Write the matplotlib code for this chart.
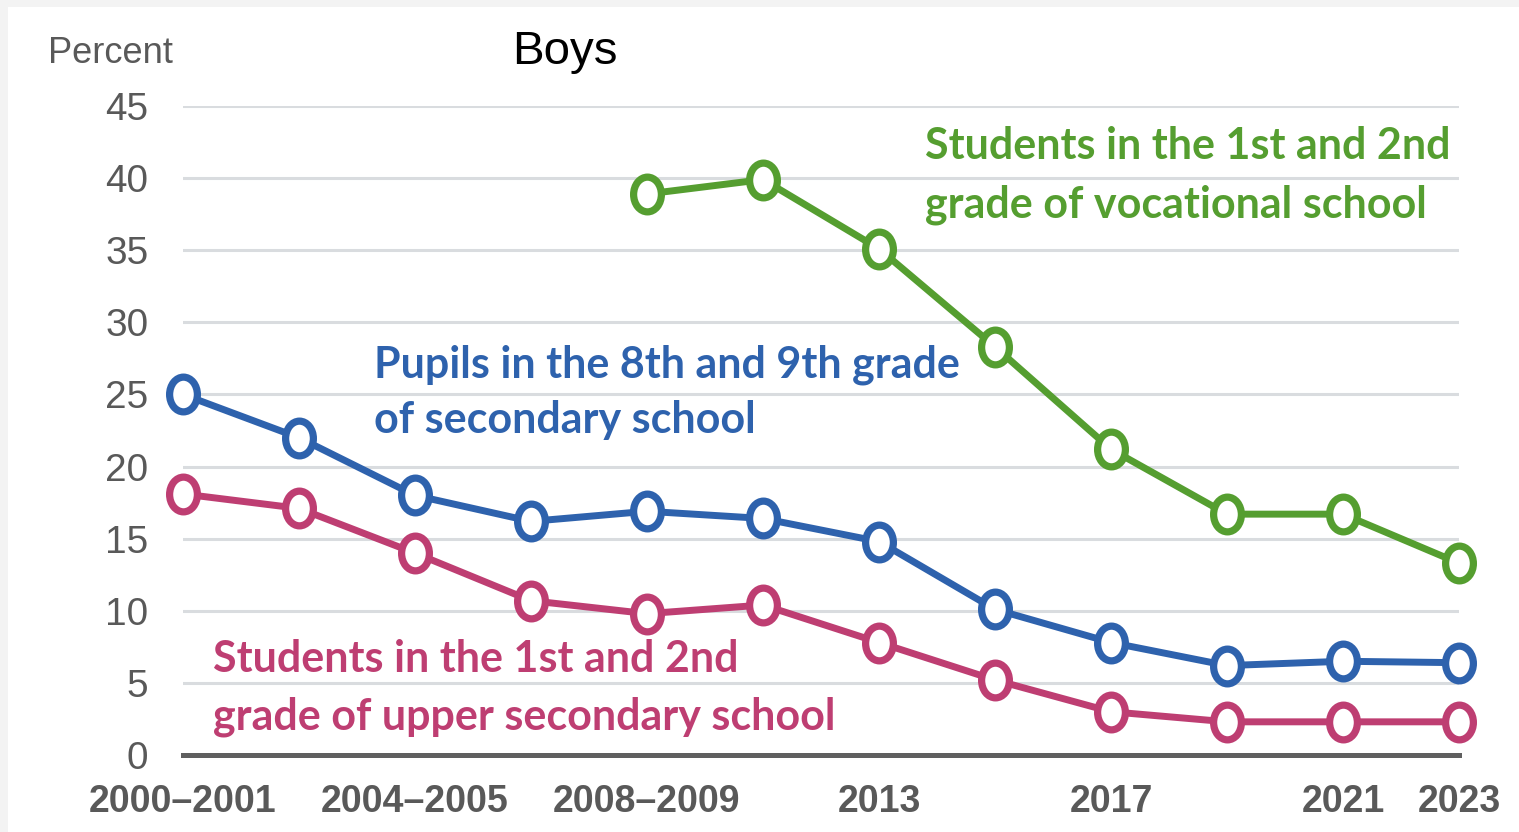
import matplotlib
matplotlib.use("Agg")
import matplotlib.pyplot as plt
from matplotlib import font_manager
from matplotlib.path import Path
from matplotlib.transforms import Affine2D
from matplotlib.patches import Rectangle

# x positions are survey rounds, only some of them get a label
n_points = 12
tick_pos = [0, 2, 4, 6, 8, 10, 11]
tick_labels = ["2000\u20132001", "2004\u20132005", "2008\u20132009", "2013", "2017", "2021", "2023"]

secondary = [25.0, 22.0, 18.0, 16.2, 16.9, 16.4, 14.8, 10.1, 7.8, 6.2, 6.5, 6.4]
upper_secondary = [18.1, 17.1, 14.0, 10.7, 9.8, 10.4, 7.8, 5.2, 3.0, 2.3, 2.3, 2.3]
vocational = [None, None, None, None, 38.9, 39.9, 35.1, 28.3, 21.2, 16.7, 16.7, 13.3]

label_secondary = ["Pupils in the 8th and 9th grade", "of secondary school"]
label_upper = ["Students in the 1st and 2nd", "grade of upper secondary school"]
label_vocational = ["Students in the 1st and 2nd", "grade of vocational school"]

BLUE = "#2e62ad"
PINK = "#be3e72"
GREEN = "#559e30"
GREY_TXT = "#595959"

names = {f.name for f in font_manager.fontManager.ttflist}
narrow = "Liberation Sans Narrow" in names
arial = "Liberation Sans Narrow" if narrow else "Liberation Sans"
scale = 1.0 if narrow else 0.9
label_font = "Lato"

W, H = 1519, 832
fig = plt.figure(figsize=(W / 100, H / 100), dpi=100)
fig.patch.set_facecolor("#f3f3f3")
fig.patches.append(Rectangle((8 / W, 0), 1, 1 - 7 / H, transform=fig.transFigure,
                             facecolor="white", edgecolor="none", zorder=-5))

ax = fig.add_axes([183 / W, 77 / H, (1459 - 183) / W, (755 - 106) / H])
ax.set_zorder(1)
ax.set_facecolor("none")
ax.set_xlim(0, n_points - 1)
ax.set_ylim(0, 45)
ax.set_yticks(range(0, 46, 5))
ax.grid(axis="y", color="#d9dcdf", linewidth=2.2)
ax.set_axisbelow(True)
for s in ["top", "right", "left"]:
    ax.spines[s].set_visible(False)
ax.spines["bottom"].set_color("#5f5f5f")
ax.spines["bottom"].set_linewidth(3.6)
ax.spines["bottom"].set_zorder(2)

ax.set_xticks(tick_pos)
ax.set_xticklabels(tick_labels)
ax.tick_params(length=0)
ax.tick_params(axis="y", pad=25, labelsize=31 * scale, labelcolor=GREY_TXT)
ax.tick_params(axis="x", pad=21, labelsize=30 * scale, labelcolor=GREY_TXT)
for t in ax.get_yticklabels():
    t.set_fontfamily(arial)
for t in ax.get_xticklabels():
    t.set_fontfamily(arial)
    t.set_fontweight("bold")

# tall ellipse marker, the reference is slightly squeezed horizontally
ellipse = Path.unit_circle().transformed(Affine2D().scale(0.8, 1.0))

xs = list(range(n_points))
for vals, col in [(upper_secondary, PINK), (secondary, BLUE), (vocational, GREEN)]:
    px = [x for x, v in zip(xs, vals) if v is not None]
    py = [v for v in vals if v is not None]
    ax.plot(px, py, color=col, linewidth=5.0, marker=ellipse, markersize=25,
            markerfacecolor="white", markeredgecolor=col, markeredgewidth=5.2,
            clip_on=False, zorder=3)

def two_lines(x, y1, y2, lines, col):
    for y, s in zip([y1, y2], lines):
        ax.text(x, y, s, color=col, fontsize=31, fontweight="bold",
                family=label_font, va="baseline", ha="left")

two_lines(6.40, 41.3, 37.3, label_vocational, GREEN)
two_lines(1.65, 26.2, 22.3, label_secondary, BLUE)
two_lines(0.26, 5.75, 1.8, label_upper, PINK)

fig.text(173 / W, 1 - 63 / H, "Percent", ha="right", va="baseline",
         fontsize=29 * scale, color=GREY_TXT, family=arial)
fig.text(565 / W, 1 - 64 / H, "Boys", ha="center", va="baseline",
         fontsize=38 * scale, color="black", family=arial)

fig.savefig("out.png", dpi=100, facecolor=fig.get_facecolor())
